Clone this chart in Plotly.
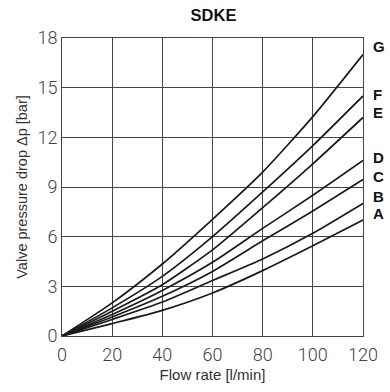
import plotly.graph_objects as go

flow = [0, 20, 40, 60, 80, 100, 120]
series_names = ["G", "F", "E", "D", "C", "B", "A"]
G = [0, 2.0, 4.35, 7.05, 9.9, 13.25, 17.0]
F = [0, 1.7, 3.6, 6.0, 8.7, 11.5, 14.5]
E = [0, 1.5, 3.1, 5.2, 7.75, 10.4, 13.2]
D = [0, 1.3, 2.75, 4.45, 6.5, 8.5, 10.6]
C = [0, 1.15, 2.4, 3.9, 5.75, 7.55, 9.45]
B = [0, 1.0, 2.05, 3.35, 4.65, 6.2, 8.0]
A = [0, 0.75, 1.55, 2.6, 3.95, 5.45, 7.0]
series = [G, F, E, D, C, B, A]
x_ticks = [0, 20, 40, 60, 80, 100, 120]
y_ticks = [0, 3, 6, 9, 12, 15, 18]

fig = go.Figure()
for name, vals in zip(series_names, series):
    fig.add_trace(go.Scatter(x=flow, y=vals, mode="lines", name=name,
                             line=dict(color="#1a1a1a", width=1.7, shape="spline", smoothing=0.6),
                             showlegend=False, hoverinfo="skip"))

label_y = {"G": 17.5, "F": 14.6, "E": 13.5, "D": 10.8, "C": 9.64, "B": 8.45, "A": 7.38}
for name in series_names:
    fig.add_annotation(x=1.0, xref="paper", y=label_y[name], yref="y",
                       text=f"<b>{name}</b>", showarrow=False, xanchor="left",
                       xshift=8, font=dict(family="Liberation Sans, Arial", size=15, color="#111"))

tick_font = dict(family="Roboto, Liberation Sans Narrow, DejaVu Sans Condensed, Arial", size=18,
                 color="#444", weight=300)
fig.update_layout(
    width=390, height=392,
    margin=dict(l=62, r=25, t=38, b=52),
    paper_bgcolor="white", plot_bgcolor="white",
    title=dict(text="<b>SDKE</b>", x=0.5475, xanchor="center", y=0.962, yanchor="middle",
               font=dict(family="Liberation Sans, Arial", size=16.5, color="#111")),
    xaxis=dict(range=[0, 120], tickvals=x_ticks, showgrid=True, gridcolor="#444", gridwidth=1,
               showline=True, linecolor="#444", linewidth=1, mirror=True, zeroline=False,
               ticks="", tickfont=tick_font, ticklabelstandoff=2,
               title=dict(text="Flow rate [l/min]", standoff=5,
                          font=dict(family="Liberation Sans, Arial", size=15, color="#333"))),
    yaxis=dict(range=[0, 18], tickvals=y_ticks, showgrid=True, gridcolor="#444", gridwidth=1,
               showline=True, linecolor="#444", linewidth=1, mirror=True, zeroline=False,
               ticks="", tickfont=tick_font,
               title=dict(text="Valve pressure drop Δp [bar]", standoff=6,
                          font=dict(family="Liberation Sans, Arial", size=14.5, color="#333"))),
)

fig.write_html("out.html")
